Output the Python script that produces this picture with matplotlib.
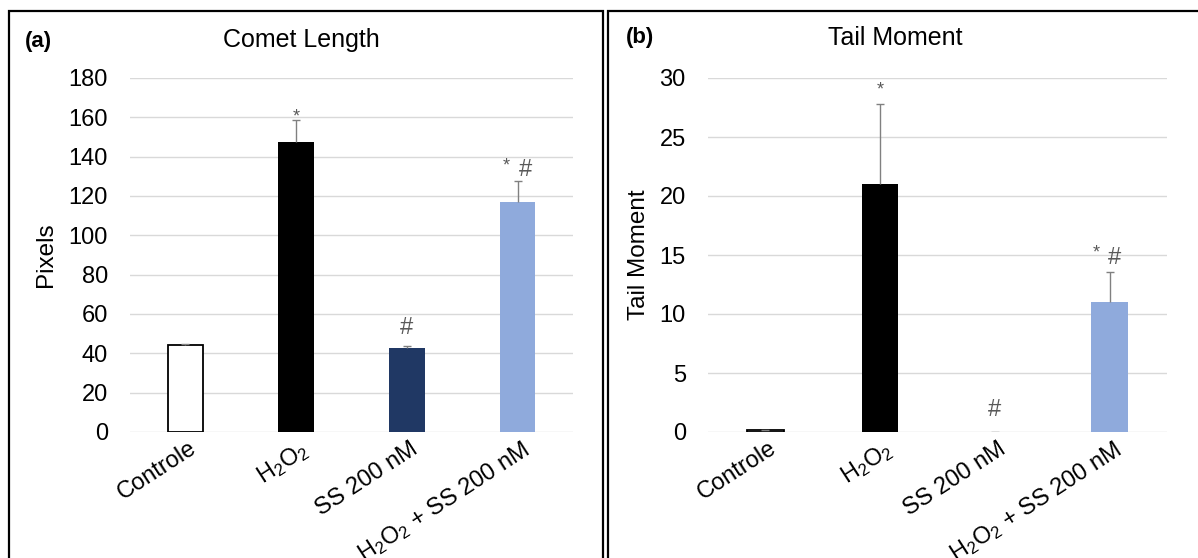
import matplotlib.pyplot as plt
from matplotlib.patches import Rectangle
from matplotlib.transforms import ScaledTranslation

plt.rcParams['font.family'] = ['Liberation Sans', 'DejaVu Sans']
plt.rcParams['mathtext.fontset'] = 'custom'
plt.rcParams['mathtext.rm'] = 'Liberation Sans'

groups = ['Controle', r'H$\mathregular{_2}$O$\mathregular{_2}$', 'SS 200 nM',
          r'H$\mathregular{_2}$O$\mathregular{_2}$ + SS 200 nM']
bar_colors = ['white', 'black', '#203864', '#8faadc']

comet_length = [44.0, 147.5, 42.5, 117.0]
comet_err = [0.5, 11.0, 1.0, 10.5]
comet_marks = ['', '*', '#', '* #']

tail_moment = [0.2, 21.0, 0.0, 11.0]
tail_err = [0.0, 6.8, 0.0, 2.6]
tail_marks = ['', '*', '#', '* #']

GRAY = '#595959'


def put_mark(ax, x, y, s, dx, dy, size):
    ax.annotate(s, (x, y), xytext=(dx, dy), textcoords='offset pixels',
                ha='center', va='center', fontsize=size, color=GRAY)


def draw_panel(ax, values, errs, marks, ymax, ystep, ylabel, star_dy, hash_dy, pair_dy, pair_dx):
    x = list(range(len(values)))
    ax.bar(x, values, width=0.32, color=bar_colors, edgecolor='black',
           linewidth=[1.3, 0, 0, 0], zorder=3)
    # only the upper half of the error bar, like excel does it
    tops = [v + e for v, e in zip(values, errs)]
    ax.vlines(x, values, tops, color='#808080', linewidth=1, zorder=4)
    ax.hlines(tops, [i - 0.035 for i in x], [i + 0.035 for i in x], color='#808080', linewidth=1, zorder=4)
    for i, m in enumerate(marks):
        if m == '*':
            put_mark(ax, i, tops[i], '*', 0, star_dy, 13)
        elif m == '#':
            put_mark(ax, i, tops[i], '#', 0, hash_dy, 17)
        elif m:
            put_mark(ax, i, tops[i], '*', pair_dx[0], pair_dy[0], 13)
            put_mark(ax, i, tops[i], '#', pair_dx[1], pair_dy[1], 17)
    ax.set_xlim(-0.5, len(values) - 0.5)
    ax.set_ylim(0, ymax)
    ax.set_yticks([v * ystep for v in range(int(ymax / ystep) + 1)])
    ax.yaxis.grid(True, color='#d9d9d9', linewidth=1, zorder=0)
    for s in ax.spines.values():
        s.set_visible(False)
    ax.tick_params(length=0, labelsize=17, pad=16)
    ax.tick_params(axis='x', pad=4)
    ax.set_xticks(x)
    ax.set_xticklabels(groups, rotation=33, ha='right', rotation_mode='anchor', va='top')
    shift = ScaledTranslation(3 / 100, 0, ax.figure.dpi_scale_trans)
    for lab in ax.get_xticklabels():
        lab.set_transform(lab.get_transform() + shift)
    ax.set_ylabel(ylabel, fontsize=17.5)


fig = plt.figure(figsize=(11.98, 5.58), dpi=100)
W, H = 1198.0, 558.0

ax1 = fig.add_axes([130 / W, 1 - 432 / H, 443 / W, 354 / H])
draw_panel(ax1, comet_length, comet_err, comet_marks, 180, 20, 'Pixels',
           3, 18, (15, 11), (-11, 8))
ax1.yaxis.set_label_coords((57 - 130) / 443, 0.5)

ax2 = fig.add_axes([708 / W, 1 - 432 / H, 459 / W, 354 / H])
draw_panel(ax2, tail_moment, tail_err, tail_marks, 30, 5, 'Tail Moment',
           14, 22, (19, 14), (-13, 5))
ax2.yaxis.set_label_coords((650 - 708) / 459, 0.5)

# titles and panel letters sit left of the axes centre in the original
fig.text(301 / W, 1 - 40 / H, 'Comet Length', ha='center', va='center', fontsize=18)
fig.text(895 / W, 1 - 38 / H, 'Tail Moment', ha='center', va='center', fontsize=18)
fig.text(25 / W, 1 - 41 / H, '(a)', ha='left', va='center', fontsize=16, fontweight='bold')
fig.text(626 / W, 1 - 38 / H, '(b)', ha='left', va='center', fontsize=16, fontweight='bold')

# boxes round each panel, bottom edge falls outside the picture
fig.add_artist(Rectangle((9 / W, -0.1), 594 / W, 1.1 - 11 / H, transform=fig.transFigure,
                         fill=False, edgecolor='black', linewidth=1.6))
fig.add_artist(Rectangle((608 / W, -0.1), 600 / W, 1.1 - 11 / H, transform=fig.transFigure,
                         fill=False, edgecolor='black', linewidth=1.6))

fig.savefig('out.png', dpi=100)
